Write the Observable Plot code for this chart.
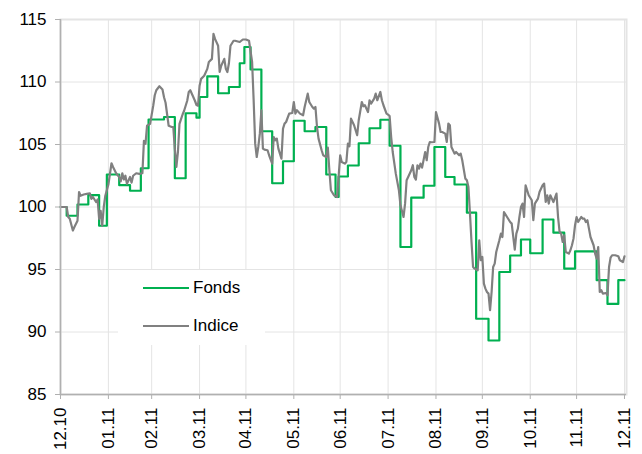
<!DOCTYPE html>
<html>
<head>
<meta charset="utf-8">
<script src="https://cdn.jsdelivr.net/npm/d3@7"></script>
<script src="https://cdn.jsdelivr.net/npm/@observablehq/plot@0.6"></script>
<style>
  html, body { margin: 0; padding: 0; background: #fff; }
  #wrap { position: relative; width: 642px; height: 454px; font-family: "Liberation Sans", Arial, sans-serif; }
  #legend { position: absolute; left: 118px; top: 270px; width: 147px; height: 75px; background: #fff; }
  .row { position: absolute; left: 25px; display: flex; align-items: center; font-size: 17px; color: #000; }
  .sw { width: 46px; height: 2.5px; margin-right: 4px; }
</style>
</head>
<body>
<div id="wrap"></div>
<script>
// ---- data (days since 2010-12-31, values) ----
const series = ["Fonds", "Indice"];
const seriesColors = ["#00B050", "#808080"];

const fondsDays = [0,4,11,18,25,30,38,45,52,57,67,74,81,88,90,95,102,109,116,119,123,130,137,144,151,158,165,172,178,180,186,193,200,207,213,220,227,235,242,249,255,263,269,277,284,291,298,304,312,319,326,333,347,354,361,365];
const fondsValues = [100.0,99.3,100.2,100.95,98.5,102.6,101.75,101.3,103.1,107.0,107.2,102.3,107.5,107.15,108.8,110.45,109.1,109.6,111.5,112.8,111.0,106.06,101.9,103.66,106.9,106.06,106.4,102.6,100.8,102.44,103.32,105.1,106.3,106.98,104.9,96.8,100.75,101.7,104.8,102.4,101.8,99.55,91.06,89.32,94.8,96.12,97.4,96.3,99.0,97.95,95.07,96.45,94.15,92.25,94.15,94.15];

const indiceDays = [0,4,5,6,8,9,11,12,13,15,17,19,20,21,23,24,25,26,27,28,29,31,33,34,36,38,39,40,41,42,43,45,46,47,49,51,53,54,55,56,58,60,61,62,64,66,67,68,70,72,73,74,75,76,77,79,80,82,83,84,85,87,88,89,90,91,93,95,96,98,99,100,102,103,104,106,107,108,109,110,112,113,116,117,118,120,122,124,125,126,127,128,129,130,131,132,134,135,137,138,139,140,141,142,143,144,145,146,148,150,151,152,153,155,157,158,160,161,163,164,165,166,167,169,170,172,173,174,175,177,179,181,182,184,185,186,187,188,190,192,193,195,196,197,199,200,201,203,204,205,207,208,209,211,212,213,214,215,217,219,220,222,223,224,225,227,228,229,230,231,232,233,234,236,237,238,239,240,242,243,245,246,247,249,250,251,252,253,254,255,256,258,259,260,262,263,264,265,266,267,268,270,271,272,273,274,275,276,277,278,279,280,281,282,284,285,286,287,289,291,292,294,295,296,297,298,299,300,301,302,303,305,306,307,309,310,312,313,314,315,316,317,318,319,321,322,323,324,325,326,327,329,330,331,332,333,334,335,337,338,339,340,341,342,343,345,346,347,348,349,350,351,353,354,355,356,357,359,361,362,364,365];
const indiceValues = [100.0,100.0,99.2,99.06,98.12,98.4,98.9,101.2,100.9,101.0,101.05,101.1,100.65,100.8,100.4,100.6,99.05,99.7,98.5,100.0,100.9,101.8,103.5,103.2,102.7,102.4,102.05,102.7,102.2,102.5,101.85,102.4,101.95,102.5,102.7,102.65,102.7,105.3,105.05,106.5,106.65,108.1,108.94,109.34,109.66,109.4,108.78,108.34,106.5,106.4,106.4,104.63,103.2,104.4,106.65,107.4,107.7,108.5,109.2,109.34,109.06,108.5,108.16,108.1,109.7,110.25,110.5,111.05,111.6,111.85,113.85,113.45,112.9,110.8,111.3,111.85,111.05,110.8,111.5,112.9,113.3,113.3,113.2,113.3,113.4,113.4,113.3,111.6,108.54,105.07,104.0,104.8,105.87,107.74,104.67,104.59,104.54,104.14,103.47,105.6,105.34,105.47,104.67,104.27,103.87,106.27,106.67,106.8,107.47,107.52,108.4,107.47,107.74,107.47,107.34,108.0,109.07,108.4,108.0,107.87,108.0,106.4,105.47,104.54,104.14,104.0,104.75,102.94,101.34,100.94,100.8,104.14,103.6,103.47,103.6,105.07,104.86,107.07,106.54,105.74,106.94,108.4,108.06,108.14,107.6,108.54,108.27,108.67,109.07,108.54,109.2,108.54,108.14,107.47,107.39,107.28,105.6,104.4,102.67,101.34,100.14,99.2,100.27,102.14,102.4,102.94,103.34,102.4,102.19,103.34,103.07,103.47,103.15,104.4,103.74,104.8,105.2,105.18,105.2,107.6,106.67,106.0,106.0,105.87,105.2,106.67,106.54,104.8,104.54,104.27,104.4,104.14,104.27,103.74,102.27,102.14,101.6,99.47,97.2,95.2,95.07,94.94,97.34,95.74,96.0,93.87,93.47,93.2,93.07,91.74,93.2,95.2,95.47,96.4,97.34,97.87,97.6,99.6,99.2,98.8,98.67,96.59,97.87,98.27,99.2,100.0,100.27,99.2,101.74,101.34,100.94,100.54,98.94,100.27,100.67,101.2,101.74,101.87,100.4,100.94,100.27,100.94,100.67,100.4,101.07,99.2,98.0,97.87,97.2,97.74,96.4,96.27,96.54,96.94,97.47,98.54,99.2,98.8,99.2,99.07,99.07,98.8,98.94,98.27,97.6,96.94,96.27,95.87,96.8,93.2,93.34,93.07,93.12,92.94,95.2,95.95,96.14,96.14,96.06,95.74,95.6,96.06];

const tickDates = ["2010-12-31","2011-01-31","2011-02-28","2011-03-31","2011-04-30","2011-05-31","2011-06-30","2011-07-31","2011-08-31","2011-09-30","2011-10-31","2011-11-30","2011-12-31"];
const tickLabels = ["12.10","01.11","02.11","03.11","04.11","05.11","06.11","07.11","08.11","09.11","10.11","11.11","12.11"];
const yTicks = [85, 90, 95, 100, 105, 110, 115];
const xDomainDays = [0, 366.3];

// ---- build ----
const dayToDate = d => new Date(Date.UTC(2010, 11, 31) + d * 86400000);
const fonds = fondsDays.map((d, i) => ({date: dayToDate(d), value: fondsValues[i]}));
const indice = indiceDays.map((d, i) => ({date: dayToDate(d), value: indiceValues[i]}));
const ticks = tickDates.map(s => new Date(s + "T00:00:00Z"));
const labelOf = new Map(ticks.map((t, i) => [t.getTime(), tickLabels[i]]));

const chart = Plot.plot({
  width: 642,
  height: 454,
  marginLeft: 60,
  marginRight: 16,
  marginTop: 19,
  marginBottom: 60,
  style: {fontFamily: '"Liberation Sans", Arial, sans-serif', fontSize: "17px", color: "#000", background: "#fff", overflow: "visible"},
  x: {type: "utc", domain: xDomainDays.map(dayToDate)},
  y: {domain: [yTicks[0], yTicks[yTicks.length - 1]]},
  marks: [
    Plot.gridY(yTicks, {stroke: "#e4e4e4", strokeOpacity: 1, strokeWidth: 1}),
    Plot.gridX(ticks, {stroke: "#e4e4e4", strokeOpacity: 1, strokeWidth: 1}),
    Plot.frame({stroke: "#e4e4e4", strokeWidth: 2}),
    Plot.line(fonds, {x: "date", y: "value", curve: "step-after", stroke: seriesColors[0], strokeWidth: 2.2}),
    Plot.line(indice, {x: "date", y: "value", stroke: seriesColors[1], strokeWidth: 2.2}),
    Plot.ruleX([ticks[0]], {stroke: "#b0b0b0", strokeWidth: 1.5}),
    Plot.ruleY([yTicks[0]], {stroke: "#b0b0b0", strokeWidth: 1.5}),
    Plot.axisY(yTicks, {tickSize: 5, tickPadding: 9, stroke: "#b0b0b0", fill: "#000", label: null}),
    Plot.axisX(ticks, {tickSize: 5, tickPadding: 8, tickRotate: -90, stroke: "#b0b0b0", fill: "#000", label: null,
      tickFormat: d => labelOf.get(d.getTime())})
  ]
});

const wrap = document.getElementById("wrap");
wrap.appendChild(chart);

const legend = document.createElement("div");
legend.id = "legend";
series.forEach((name, i) => {
  const row = document.createElement("div");
  row.className = "row";
  row.style.top = (i === 0 ? 8 : 46) + "px";
  const sw = document.createElement("div");
  sw.className = "sw";
  sw.style.background = seriesColors[i];
  const tx = document.createElement("span");
  tx.textContent = name;
  row.appendChild(sw);
  row.appendChild(tx);
  legend.appendChild(row);
});
wrap.appendChild(legend);
</script>
</body>
</html>
